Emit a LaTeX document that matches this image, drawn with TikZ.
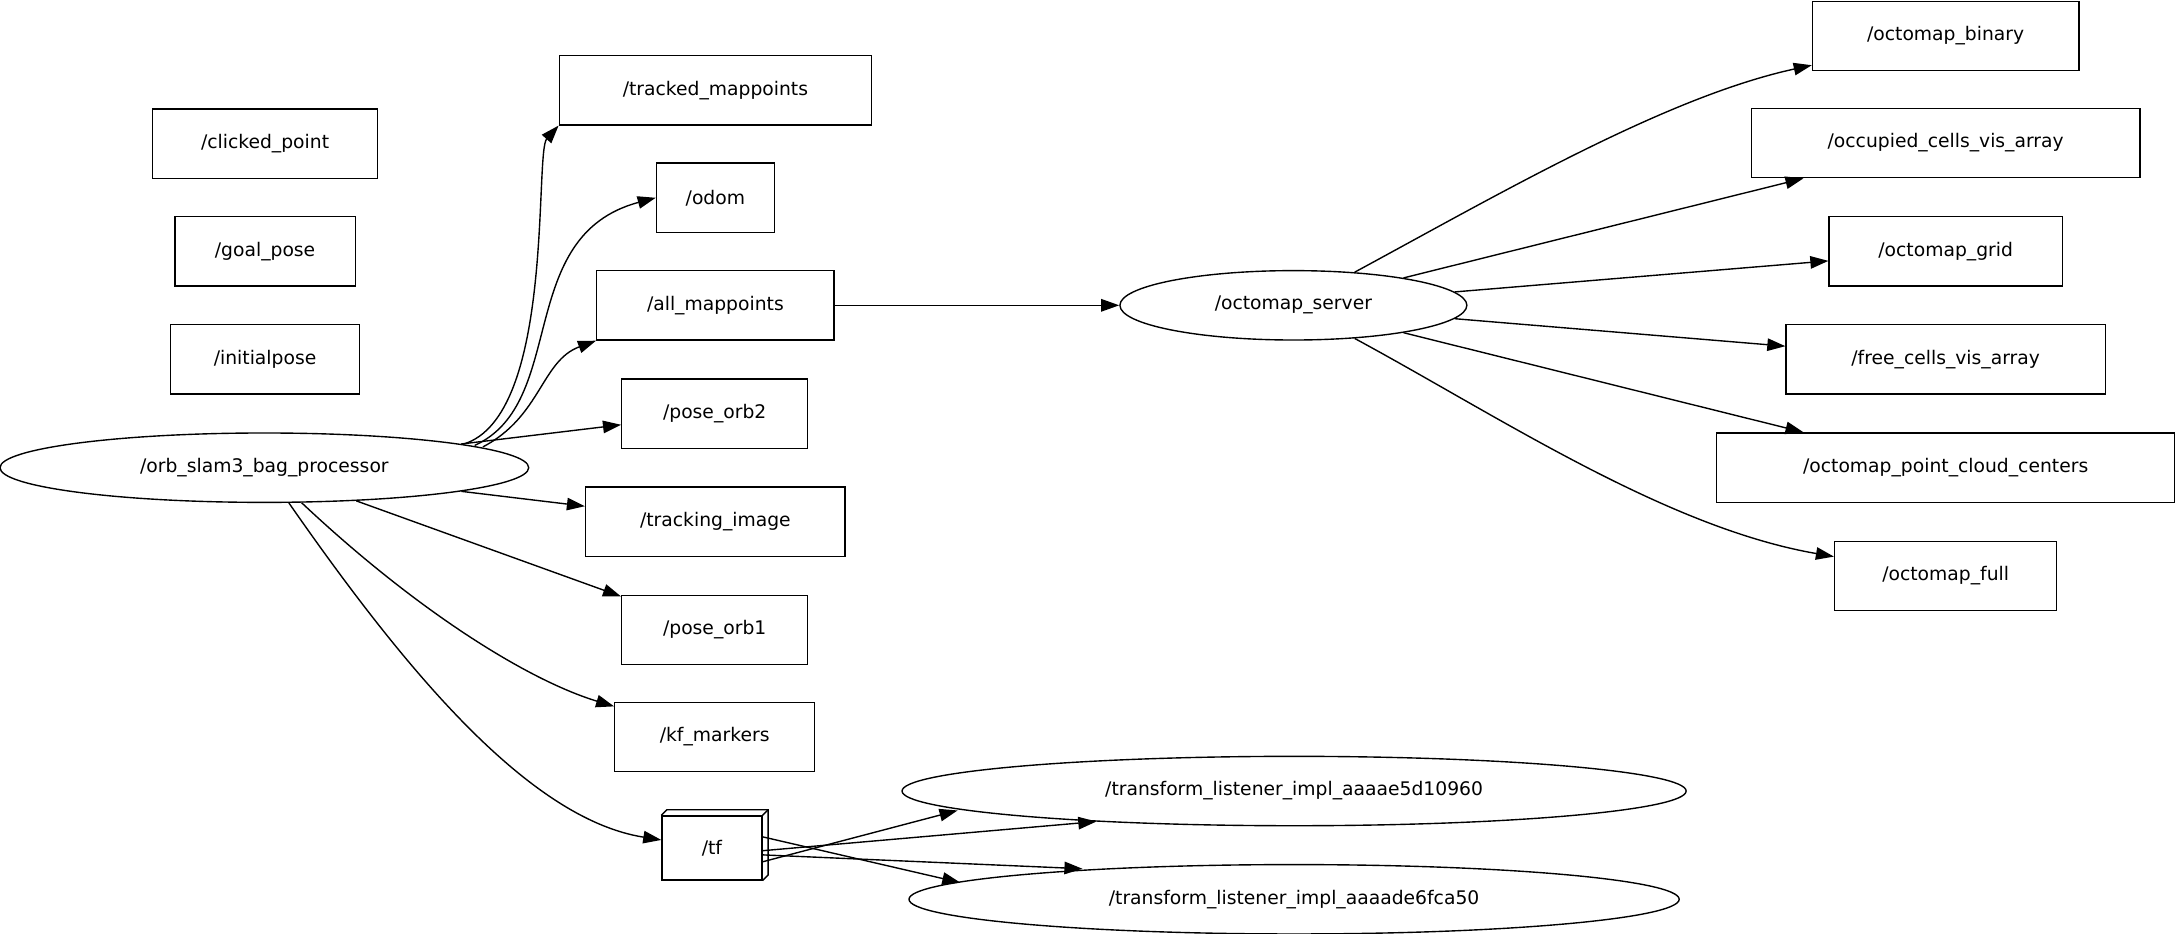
\documentclass[tikz,border=0pt]{standalone}
\usepackage{fontspec}
\setmainfont{DejaVu Sans}
\usetikzlibrary{arrows.meta,shapes.geometric,shapes.misc,shapes.multipart}
\begin{document}
\begin{tikzpicture}[x=1pt,y=-1pt,line width=1pt,
  every node/.style={font=\fontsize{13.5}{16}\selectfont, inner sep=0pt},
  box/.style={draw,rectangle,minimum height=50pt},
  ell/.style={draw,ellipse,minimum height=50pt},
  arr/.style={-{Triangle[length=13pt,width=9pt]}}]
\useasboundingbox (0,0) rectangle (1568,673);
\node[box,minimum width=162pt] (clk) at (191,103.5) {/clicked\_point};
\node[box,minimum width=130pt] (goal) at (191,181) {/goal\_pose};
\node[box,minimum width=136pt] (init) at (191,259) {/initialpose};
\node[ell,minimum width=381pt] (orb) at (190.5,337) {/orb\_slam3\_bag\_processor};
\node[box,minimum width=225pt] (trk) at (515.5,65) {/tracked\_mappoints};
\node[box,minimum width=85pt] (odom) at (515.5,142.5) {/odom};
\node[box,minimum width=171pt] (allm) at (515.5,220) {/all\_mappoints};
\node[box,minimum width=134pt] (po2) at (515,298) {/pose\_orb2};
\node[box,minimum width=187pt] (timg) at (515.5,376) {/tracking\_image};
\node[box,minimum width=134pt] (po1) at (515,454) {/pose\_orb1};
\node[box,minimum width=144pt] (kf) at (515,531) {/kf\_markers};
\node[box,minimum width=72pt,minimum height=46pt] (tf) at (513,611) {/tf};
\draw (tf.north west) -- ++(4,-4) -- ([shift={(4,-4)}]tf.north east) -- ([shift={(4,-4)}]tf.south east) -- (tf.south east);
\draw (tf.north east) -- ++(4,-4);
\node[ell,minimum width=250pt] (osrv) at (932,220) {/octomap\_server};
\node[ell,minimum width=565pt] (tl1) at (932.5,570) {/transform\_listener\_impl\_aaaae5d10960};
\node[ell,minimum width=555pt] (tl2) at (932.5,648) {/transform\_listener\_impl\_aaaade6fca50};
\node[box,minimum width=192pt] (obin) at (1402,26) {/octomap\_binary};
\node[box,minimum width=280pt] (occ) at (1402,103) {/occupied\_cells\_vis\_array};
\node[box,minimum width=168pt] (ogrid) at (1402,181) {/octomap\_grid};
\node[box,minimum width=230pt] (free) at (1402,259) {/free\_cells\_vis\_array};
\node[box,minimum width=330pt] (pcc) at (1402,337) {/octomap\_point\_cloud\_centers};
\node[box,minimum width=160pt] (ofull) at (1402,415) {/octomap\_full};

\coordinate (o1) at (334,320);
\coordinate (o2) at (342,321);
\coordinate (o3) at (348,322);
\draw[arr] (o1) .. controls (400,300) and (385,110) .. (trk.south west);
\draw[arr] (o2) .. controls (410,290) and (370,170) .. (odom.west);
\draw[arr] (o3) .. controls (390,300) and (390,260) .. (allm.south west);
\draw[arr] (orb) -- (po2);
\draw[arr] (orb) -- (timg);
\draw[arr] (orb) -- (po1);
\draw[arr] (orb) .. controls (300,440) and (380,490) .. (kf);
\draw[arr] (orb) .. controls (290,480) and (380,590) .. (tf);
\draw[arr] (allm) -- (osrv);
\draw[arr] (osrv) .. controls (1080,140) and (1200,70) .. (obin);
\draw[arr] (osrv) -- (occ);
\draw[arr] (osrv) -- (ogrid);
\draw[arr] (osrv) -- (free);
\draw[arr] (osrv) -- (pcc);
\draw[arr] (osrv) .. controls (1080,300) and (1200,380) .. (ofull);
\draw[arr] ([yshift=-10pt]tf.east) -- (690,584);
\draw[arr] ([yshift=-2pt]tf.east) -- (790,592);
\draw[arr] ([yshift=-5pt]tf.east) -- (780,626);
\draw[arr] ([yshift=8pt]tf.east) -- (692,636);
\end{tikzpicture}
\end{document}
